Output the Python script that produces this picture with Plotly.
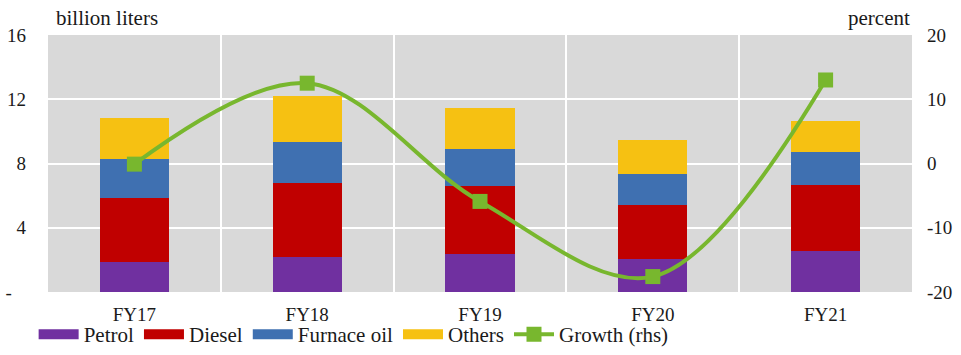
import plotly.graph_objects as go

# Fuel sales by product, billion liters
years = ["FY17", "FY18", "FY19", "FY20", "FY21"]
petrol = [1.85, 2.20, 2.37, 2.03, 2.53]
diesel = [4.02, 4.59, 4.21, 3.41, 4.15]
furnace_oil = [2.41, 2.55, 2.30, 1.91, 2.06]
others = [2.55, 2.86, 2.60, 2.11, 1.91]
# Year-on-year growth of total sales, percent (right axis)
growth = [-0.1, 12.5, -5.9, -17.6, 13.0]

left_ticks = [0, 4, 8, 12, 16]
left_tick_text = ["-\u00a0\u00a0\u00a0", "4", "8", "12", "16"]
right_ticks = [-20, -10, 0, 10, 20]
right_tick_text = [str(v) for v in right_ticks]

series = [
    ("Petrol", petrol, "#7030A0"),
    ("Diesel", diesel, "#C00000"),
    ("Furnace oil", furnace_oil, "#3F70B1"),
    ("Others", others, "#F6C112"),
]
green = "#78B72E"
font_family = "Liberation Serif, DejaVu Serif, serif"
fsize = 19

fig = go.Figure()
for name, vals, color in series:
    fig.add_trace(go.Bar(
        x=years, y=vals, name=name, marker=dict(color=color, line=dict(width=0)),
        width=0.4, legendgroup=name, showlegend=False,
    ))
    # wide swatch for the legend entry
    fig.add_trace(go.Scatter(
        x=[None], y=[None], mode="lines", name=name, legendgroup=name,
        line=dict(color=color, width=10),
    ))

fig.add_trace(go.Scatter(
    x=years, y=growth, name="Growth (rhs)", yaxis="y2", mode="lines+markers",
    line=dict(color=green, width=4, shape="spline", smoothing=1.0),
    marker=dict(symbol="square", size=15, color=green),
))

fig.update_layout(
    width=961, height=355,
    margin=dict(l=48, r=49, t=35, b=63, autoexpand=False),
    barmode="stack",
    paper_bgcolor="white",
    plot_bgcolor="#D9D9D9",
    font=dict(family=font_family, size=fsize, color="#1a1a1a"),
    showlegend=True,
    legend=dict(
        orientation="h", x=0.035, xanchor="left", xref="container",
        y=-0.014, yanchor="bottom", yref="container",
        font=dict(size=21), itemwidth=40, tracegroupgap=0,
        bgcolor="rgba(0,0,0,0)",
    ),
    xaxis=dict(
        type="category", tickson="boundaries", showgrid=True,
        gridcolor="white", gridwidth=1.5, ticks="", showline=False,
        ticklabelstandoff=9, automargin=False,
    ),
    yaxis=dict(
        range=[0, 16], tickvals=left_ticks, ticktext=left_tick_text,
        showgrid=True, gridcolor="white", gridwidth=2, zeroline=False,
        showline=False, ticks="", ticklabelstandoff=21, automargin=False,
    ),
    yaxis2=dict(
        range=[-20, 20], tickvals=right_ticks, ticktext=right_tick_text,
        overlaying="y", side="right",
        showgrid=False, zeroline=False, showline=False, ticks="",
        ticklabelstandoff=14, automargin=False,
    ),
    annotations=[
        dict(text="billion liters", xref="paper", yref="paper", x=0.007, y=1.066,
             xanchor="left", yanchor="middle", showarrow=False, font=dict(size=21)),
        dict(text="percent", xref="paper", yref="paper", x=1.0, y=1.066,
             xanchor="right", yanchor="middle", showarrow=False, font=dict(size=21)),
    ],
)

fig.write_html("out.html")
